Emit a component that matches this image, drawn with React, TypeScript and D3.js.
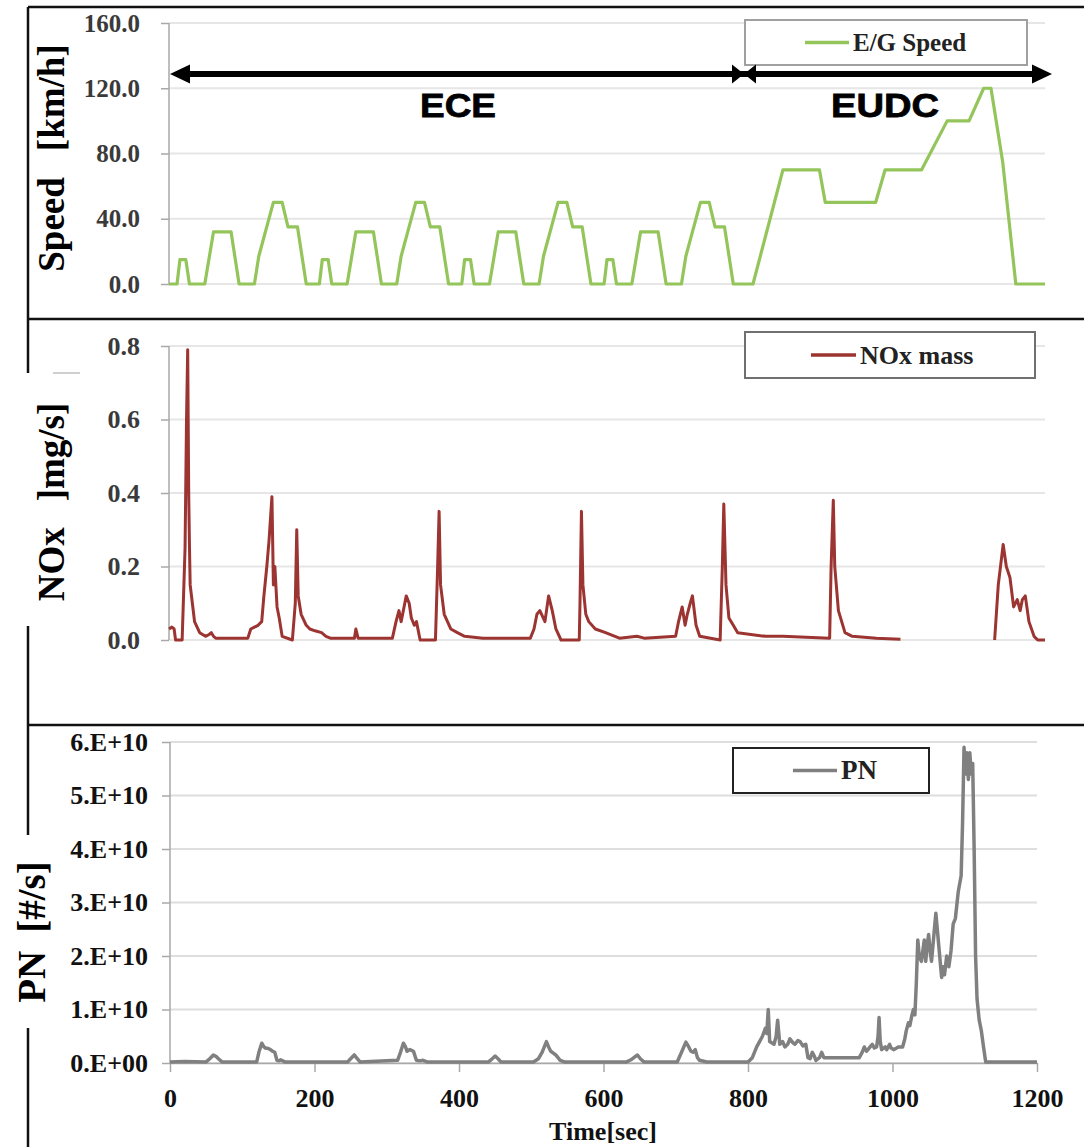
import React, { useEffect, useRef } from "react";
import * as d3 from "d3";

// tick values / labels
const speedTicks = [0, 40, 80, 120, 160];
const noxTicks = [0, 0.2, 0.4, 0.6, 0.8];
const pnTicks = [0, 1, 2, 3, 4, 5, 6];
const pnTickLabels = ["0.E+00", "1.E+10", "2.E+10", "3.E+10", "4.E+10", "5.E+10", "6.E+10"];
const timeTicks = [0, 200, 400, 600, 800, 1000, 1200];

// [time s, speed km/h]
const speedData: [number, number][] = [
  [0, 0], [11, 0], [15, 15], [23, 15], [28, 0], [49, 0], [61, 32], [85, 32], [96, 0],
  [117, 0], [123, 17], [143, 50], [155, 50], [163, 35], [176, 35], [188, 0],
  [206, 0], [210, 15], [218, 15], [223, 0], [244, 0], [256, 32], [280, 32], [291, 0],
  [312, 0], [318, 17], [338, 50], [350, 50], [358, 35], [371, 35], [383, 0],
  [401, 0], [405, 15], [413, 15], [418, 0], [439, 0], [451, 32], [475, 32], [486, 0],
  [507, 0], [513, 17], [533, 50], [545, 50], [553, 35], [566, 35], [578, 0],
  [596, 0], [600, 15], [608, 15], [613, 0], [634, 0], [646, 32], [670, 32], [681, 0],
  [702, 0], [708, 17], [728, 50], [740, 50], [748, 35], [761, 35], [773, 0],
  [800, 0], [841, 70], [891, 70], [899, 50], [968, 50], [981, 70], [1031, 70],
  [1066, 100], [1096, 100], [1116, 120], [1126, 120], [1142, 75], [1160, 0], [1200, 0],
];

// [time s, NOx mg/s] (null = no data)
const noxData: [number, number | null][] = [
  [0, 0.03], [4, 0.035], [7, 0.03], [9, 0], [18, 0], [22, 0.25], [24, 0.6], [25.6, 0.79], [27, 0.4],
  [28, 0.26], [29, 0.15], [32, 0.1], [35, 0.05], [42, 0.02], [50, 0.01], [55, 0.015], [58, 0.02],
  [61, 0.01], [64, 0.005], [108, 0.005], [112, 0.03], [117, 0.035], [122, 0.04], [127, 0.05],
  [130, 0.12], [134, 0.2], [137, 0.27], [141, 0.39], [143, 0.15], [145, 0.2], [148, 0.09],
  [151, 0.06], [155, 0.01], [169, 0], [173, 0.1], [175, 0.3], [177, 0.12], [181, 0.07], [188, 0.04],
  [193, 0.03], [200, 0.025], [209, 0.02], [215, 0.01], [221, 0.005], [254, 0.005], [256, 0.03],
  [259, 0.005], [306, 0.005], [311, 0.05], [315, 0.08], [318, 0.05], [322, 0.09], [325, 0.12],
  [329, 0.1], [332, 0.06], [336, 0.04], [339, 0.05], [344, 0], [365, 0], [368, 0.2], [370, 0.35],
  [372, 0.15], [377, 0.07], [386, 0.03], [395, 0.02], [405, 0.01], [430, 0.005], [495, 0.005],
  [500, 0.03], [504, 0.07], [508, 0.08], [515, 0.05], [520, 0.12], [525, 0.08], [530, 0.03],
  [537, 0], [562, 0], [563, 0.1], [565, 0.35], [567, 0.15], [571, 0.07], [575, 0.05], [584, 0.03],
  [598, 0.02], [617, 0.005], [641, 0.01], [651, 0.005], [694, 0.01], [698, 0.05], [703, 0.09],
  [707, 0.04], [710, 0.07], [714, 0.1], [717, 0.12], [722, 0.04], [727, 0.01], [755, 0], [758, 0.2],
  [760, 0.37], [763, 0.15], [767, 0.06], [773, 0.04], [779, 0.02], [817, 0.01], [841, 0.01],
  [905, 0.005], [907, 0.2], [910, 0.38], [912, 0.2], [917, 0.08], [926, 0.02], [936, 0.01],
  [969, 0.005], [1002, 0.002], [1003, null], [1130, null], [1131, 0], [1136, 0.15], [1142.7, 0.26],
  [1147, 0.2], [1152, 0.17], [1157, 0.09], [1162, 0.11], [1166, 0.08], [1169, 0.11], [1173, 0.12],
  [1178, 0.05], [1185, 0.01], [1190, 0], [1200, 0],
];

// [time s, PN in 1e10 #/s]
const pnData: [number, number][] = [
  [0, 0.02], [20, 0.03], [50, 0.02], [55, 0.08], [60, 0.15], [64, 0.12], [67, 0.08], [72, 0.02],
  [120, 0.02], [123, 0.2], [127, 0.37], [130, 0.3], [132, 0.28], [136, 0.27], [139, 0.25], [142, 0.22],
  [145, 0.2], [148, 0.05], [151, 0.04], [153, 0.06], [159, 0.02], [246, 0.02], [250, 0.08], [255, 0.15],
  [258, 0.1], [263, 0.02], [315, 0.05], [319, 0.2], [323, 0.37], [326, 0.3], [328, 0.22], [332, 0.25],
  [337, 0.22], [341, 0.05], [346, 0.04], [350, 0.05], [356, 0.02], [441, 0.02], [446, 0.08], [450, 0.13],
  [454, 0.08], [458, 0.02], [503, 0.02], [510, 0.08], [515, 0.2], [521, 0.4], [524, 0.3], [527, 0.22],
  [531, 0.18], [534, 0.15], [540, 0.05], [546, 0.02], [632, 0.02], [638, 0.06], [642, 0.1], [647, 0.15],
  [651, 0.08], [656, 0.02], [702, 0.02], [708, 0.2], [714, 0.39], [718, 0.3], [721, 0.22], [724, 0.2],
  [727, 0.25], [730, 0.1], [733, 0.05], [743, 0.02], [800, 0.02], [806, 0.1], [812, 0.3], [816, 0.4],
  [820, 0.5], [824, 0.65], [826, 0.55], [828, 1.0], [830, 0.4], [836, 0.35], [839, 0.5], [841, 0.8],
  [844, 0.35], [848, 0.4], [851, 0.3], [855, 0.35], [858, 0.45], [862, 0.38], [865, 0.35], [869, 0.42],
  [872, 0.4], [876, 0.32], [880, 0.35], [883, 0.1], [886, 0.08], [889, 0.2], [892, 0.12], [894, 0.05],
  [899, 0.1], [902, 0.2], [905, 0.1], [935, 0.1], [954, 0.1], [958, 0.2], [961, 0.3], [964, 0.22],
  [966, 0.25], [969, 0.3], [972, 0.35], [975, 0.28], [978, 0.3], [980, 0.5], [981.4, 0.85], [983, 0.4],
  [985, 0.25], [990, 0.3], [992, 0.25], [996, 0.35], [998, 0.28], [1002, 0.25], [1008, 0.3], [1014, 0.3],
  [1017, 0.45], [1019, 0.6], [1022, 0.75], [1024, 0.7], [1027, 0.9], [1029, 1.0], [1031, 0.9], [1033, 1.5],
  [1035, 2.3], [1037, 2.0], [1040, 1.9], [1042, 2.1], [1044, 2.3], [1046, 1.9], [1048, 2.2], [1050, 2.4],
  [1052, 2.1], [1054, 1.9], [1056, 2.2], [1058, 2.5], [1060, 2.8], [1062, 2.5], [1064, 2.2], [1066, 1.9],
  [1068, 1.6], [1070, 1.8], [1072, 1.65], [1075, 2.0], [1078, 1.8], [1081, 2.1], [1084, 2.6], [1087, 2.7],
  [1091, 3.2], [1095, 3.5], [1097, 4.5], [1099, 5.9], [1101, 5.4], [1103, 5.8], [1105, 5.3], [1107, 5.8],
  [1109, 5.4], [1111, 5.6], [1113, 4.0], [1115, 2.0], [1117, 1.2], [1120, 0.8], [1123, 0.6], [1126, 0.3],
  [1129, 0.02], [1200, 0.02],
];

const SERIF = "'Liberation Serif', 'Times New Roman', serif";
const SANS = "'Liberation Sans', Arial, sans-serif";

const App = () => {
  const svgRef = useRef<SVGSVGElement>(null);
  const width = 1084;
  const height = 1147;

  useEffect(() => {
    const svg = d3.select(svgRef.current);
    svg.selectAll("*").remove();

    svg.append("rect").attr("width", width).attr("height", height).attr("fill", "white");

    // panel frames
    const frame = svg.append("g").attr("fill", "none").attr("stroke", "#111").attr("stroke-width", 2.5);
    const seg = (x1: number, y1: number, x2: number, y2: number) =>
      frame.append("line").attr("x1", x1).attr("y1", y1).attr("x2", x2).attr("y2", y2);
    seg(28, 7, 1084, 7);
    seg(28, 7, 28, 319);
    seg(28, 319, 1084, 319);
    seg(28, 319, 28, 373);
    seg(28, 626, 28, 725);
    seg(28, 725, 1084, 725);
    seg(28, 725, 28, 835);
    seg(28, 1028, 28, 1147);
    svg.append("line").attr("x1", 53).attr("x2", 80).attr("y1", 373).attr("y2", 373)
      .attr("stroke", "#d0d0d0").attr("stroke-width", 2);

    // scales
    const xTop = d3.scaleLinear().domain([0, 1200]).range([169, 1045]);
    const ySpeed = d3.scaleLinear().domain([0, 160]).range([284, 23]);
    const yNox = d3.scaleLinear().domain([0, 0.8]).range([640, 346]);
    const xPN = d3.scaleLinear().domain([0, 1200]).range([170, 1037]);
    const yPN = d3.scaleLinear().domain([0, 6]).range([1063, 742]);

    const drawYAxis = (
      y: d3.ScaleLinear<number, number>, ticks: number[], fmt: (d: number, i: number) => string,
      x0: number, x1: number, fontSize: number, color: string, pad: number, grid: string
    ) => {
      const g = svg.append("g");
      g.selectAll("line.grid").data(ticks).enter().append("line")
        .attr("x1", x0).attr("x2", x1)
        .attr("y1", (d) => y(d)).attr("y2", (d) => y(d))
        .attr("stroke", grid).attr("stroke-width", 1.8);
      g.append("line").attr("x1", x0).attr("x2", x0)
        .attr("y1", y(ticks[0])).attr("y2", y(ticks[ticks.length - 1]))
        .attr("stroke", "#a8a8a8").attr("stroke-width", 1.5);
      const axis = d3.axisLeft(y).tickValues(ticks).tickSize(8).tickPadding(pad)
        .tickFormat((d, i) => fmt(d as number, i));
      const ag = g.append("g").attr("transform", `translate(${x0},0)`).call(axis);
      ag.attr("font-family", SERIF);
      ag.select(".domain").remove();
      ag.selectAll(".tick line").attr("stroke", "#a8a8a8").attr("stroke-width", 1.5);
      ag.selectAll(".tick text")
        .attr("fill", color).attr("font-family", SERIF).attr("font-weight", "bold")
        .attr("font-size", fontSize);
    };

    drawYAxis(ySpeed, speedTicks, (d) => d3.format(".1f")(d), 169, 1045, 25, "#3a3a3a", 21, "#e6e6e6");
    drawYAxis(yNox, noxTicks, (d) => d3.format(".1f")(d), 169, 1045, 26, "#3a3a3a", 21, "#e6e6e6");
    drawYAxis(yPN, pnTicks, (d, i) => pnTickLabels[i], 170, 1037, 26, "#111", 14, "#dedede");

    // bottom x axis
    const xAxisG = svg.append("g").attr("transform", `translate(0,${yPN(0)})`)
      .call(d3.axisBottom(xPN).tickValues(timeTicks).tickSize(9).tickSizeOuter(0).tickFormat(d3.format("d")));
    xAxisG.attr("font-family", SERIF);
    xAxisG.select(".domain").attr("stroke", "#a8a8a8").attr("stroke-width", 1.5);
    xAxisG.selectAll(".tick line").attr("stroke", "#a8a8a8").attr("stroke-width", 1.5);
    xAxisG.selectAll(".tick text")
      .attr("y", 44).attr("dy", "0")
      .attr("fill", "#111").attr("font-family", SERIF).attr("font-weight", "bold").attr("font-size", 26);

    svg.append("text").attr("x", 603).attr("y", 1140).attr("text-anchor", "middle")
      .attr("font-family", SERIF).attr("font-weight", "bold").attr("font-size", 26).attr("fill", "#111")
      .text("Time[sec]");

    // series
    const lineTop = d3.line<[number, number]>().x((d) => xTop(d[0])).y((d) => ySpeed(d[1]));
    svg.append("path").datum(speedData).attr("d", lineTop)
      .attr("fill", "none").attr("stroke", "#93c55b").attr("stroke-width", 3.2).attr("stroke-linejoin", "round");

    const lineNox = d3.line<[number, number | null]>()
      .defined((d) => d[1] !== null)
      .x((d) => xTop(d[0])).y((d) => yNox(d[1] as number));
    svg.append("path").datum(noxData).attr("d", lineNox)
      .attr("fill", "none").attr("stroke", "#9c3431").attr("stroke-width", 3).attr("stroke-linejoin", "round");

    const linePN = d3.line<[number, number]>().x((d) => xPN(d[0])).y((d) => yPN(d[1]));
    svg.append("path").datum(pnData).attr("d", linePN)
      .attr("fill", "none").attr("stroke", "#808080").attr("stroke-width", 3.5).attr("stroke-linejoin", "round");

    // legends
    const legend = (x: number, y: number, w: number, h: number, border: string, lx1: number, lx2: number,
      color: string, label: string, fs: number) => {
      svg.append("rect").attr("x", x).attr("y", y).attr("width", w).attr("height", h)
        .attr("fill", "white").attr("stroke", border).attr("stroke-width", 2);
      svg.append("line").attr("x1", lx1).attr("x2", lx2).attr("y1", y + h / 2).attr("y2", y + h / 2)
        .attr("stroke", color).attr("stroke-width", 3.5);
      svg.append("text").attr("x", lx2 + 4).attr("y", y + h / 2).attr("dy", "0.33em")
        .attr("font-family", SERIF).attr("font-weight", "bold").attr("font-size", fs).attr("fill", "#222")
        .text(label);
    };
    legend(745, 20, 282, 45, "#a0a0a0", 805, 849, "#93c55b", "E/G Speed", 25);
    legend(745, 332, 290, 46, "#707070", 811, 856, "#9c3431", "NOx mass", 26);
    legend(733, 748, 196, 45, "#222", 793, 837, "#808080", "PN", 27);

    // ECE / EUDC arrows
    const ay = 74;
    const hh = 9.5;
    svg.append("line").attr("x1", 185).attr("x2", 1036).attr("y1", ay).attr("y2", ay)
      .attr("stroke", "#000").attr("stroke-width", 6);
    const head = (tip: number, base: number) =>
      svg.append("polygon")
        .attr("points", `${tip},${ay} ${base},${ay - hh} ${base},${ay + hh}`)
        .attr("fill", "#000");
    head(170, 190);
    head(744, 732);
    head(744, 756);
    head(1052, 1032);

    const tag = (x: number, len: number, label: string) =>
      svg.append("text").attr("x", x).attr("y", 117).attr("text-anchor", "middle")
        .attr("font-family", SANS).attr("font-weight", "900").attr("font-size", 34)
        .attr("textLength", len).attr("lengthAdjust", "spacingAndGlyphs")
        .attr("stroke", "#000").attr("stroke-width", 0.8)
        .attr("fill", "#000").text(label);
    tag(458, 76, "ECE");
    tag(885, 108, "EUDC");

    // y-axis titles
    const yTitle = (x: number, y: number, fs: number, word: string, gap: number, unit: string) => {
      const t = svg.append("text")
        .attr("transform", `translate(${x},${y}) rotate(-90)`)
        .attr("text-anchor", "middle")
        .attr("font-family", SERIF).attr("font-weight", "bold").attr("font-size", fs).attr("fill", "#000");
      t.append("tspan").text(word);
      t.append("tspan").attr("dx", gap).text(unit);
    };
    yTitle(64, 158, 37, "Speed", 26, "[km/h]");
    yTitle(64, 502, 37, "NOx", 26, "]mg/s]");
    yTitle(45, 932, 39, "PN", 18, "[#/s]");
  }, []);

  return (
    <>
      <style>{"body{margin:0}"}</style>
      <svg ref={svgRef} width={width} height={height} style={{ display: "block" }}></svg>
    </>
  );
};

export default App;
